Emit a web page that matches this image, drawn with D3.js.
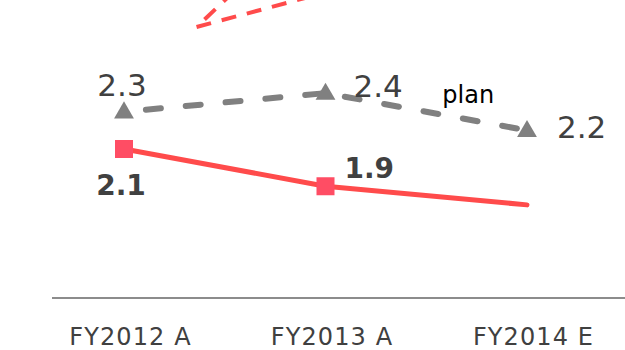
<!DOCTYPE html>
<html>
<head>
<meta charset="utf-8">
<script src="https://cdn.jsdelivr.net/npm/d3@7"></script>
<style>
  body { margin: 0; background: #fff; }
  text { font-family: "DejaVu Sans", Verdana, sans-serif; }
</style>
</head>
<body>
<script>
const width = 625;
const height = 350;

// categories and series values
const categories = ["FY2012 A", "FY2013 A", "FY2014 E"];
const planValues = [2.3, 2.4, 2.2];
const actualValues = [2.1, 1.9, 1.8];
// upper series, mostly cut off at the top (index = position between categories)
const upperIdx = [0.36, 1.0];
const upperValues = [2.755, 2.94];
const upperSteepIdx = [0.36, 0.56];
const upperSteepValues = [2.755, 2.96];

const svg = d3.select("body").append("svg")
  .attr("width", width)
  .attr("height", height);

// Scales setup
const xscale = d3.scaleLinear().domain([0, 2]).range([124, 527]);
const yscale = d3.scaleLinear().domain([1.3, 2.9]).range([298, 0]);

svg.append("defs").append("clipPath").attr("id", "plot")
  .append("rect").attr("x", 0).attr("y", 0).attr("width", width).attr("height", 298);

const line = d3.line().x(d => xscale(d[0])).y(d => yscale(d[1]));

// baseline
svg.append("line")
  .attr("x1", 52).attr("x2", width)
  .attr("y1", yscale(1.3)).attr("y2", yscale(1.3))
  .attr("stroke", "#8c8c8c").attr("stroke-width", 2);

// x axis labels
const xaxis = d3.axisBottom(xscale)
  .tickValues([0, 1, 2])
  .tickFormat(i => categories[i])
  .tickSize(0)
  .tickPadding(30);
const g_xaxis = svg.append("g")
  .attr("transform", `translate(0,${yscale(1.3)})`)
  .call(xaxis);
g_xaxis.select(".domain").remove();
g_xaxis.selectAll("text")
  .attr("dx", 6)
  .style("font-family", '"DejaVu Sans", Verdana, sans-serif')
  .style("font-size", "24px")
  .style("letter-spacing", "1.1px")
  .attr("fill", "#404040");

const plot = svg.append("g").attr("clip-path", "url(#plot)");

// red dashed upper series (clipped)
[[upperIdx, upperValues, 0], [upperSteepIdx, upperSteepValues, 15]].forEach(([xs, vs, off]) => {
  plot.append("path")
    .datum(xs.map((x, i) => [x, vs[i]]))
    .attr("d", line)
    .attr("fill", "none")
    .attr("stroke", "#ff4b4b")
    .attr("stroke-width", 4)
    .attr("stroke-dasharray", "15,11")
    .attr("stroke-dashoffset", off);
});

// plan line (gray dashed)
plot.append("path")
  .datum(planValues.map((v, i) => [i, v]))
  .attr("d", line)
  .attr("fill", "none")
  .attr("stroke", "#808080")
  .attr("stroke-width", 6)
  .attr("stroke-linecap", "round")
  .attr("stroke-dasharray", "15,25")
  .attr("stroke-dashoffset", -22);

// actual line (red solid)
plot.append("path")
  .datum(actualValues.map((v, i) => [i, v]))
  .attr("d", line)
  .attr("fill", "none")
  .attr("stroke", "#ff4b4b")
  .attr("stroke-width", 5)
  .attr("stroke-linecap", "round");

// triangle markers
plot.selectAll(".tri")
  .data(planValues)
  .join("path")
  .attr("class", "tri")
  .attr("d", d3.symbol(d3.symbolTriangle, 170))
  .attr("transform", (d, i) => `translate(${xscale(i)},${yscale(d) + 1})`)
  .attr("fill", "#808080");

// square markers (only actuals)
plot.selectAll(".sq")
  .data(actualValues.slice(0, 2))
  .join("rect")
  .attr("class", "sq")
  .attr("x", (d, i) => xscale(i) - 9)
  .attr("y", d => yscale(d) - 9)
  .attr("width", 18)
  .attr("height", 18)
  .attr("fill", "#ff4d64");

// value labels
const planLabelPos = [
  { dx: -2, dy: -16, anchor: "middle" },
  { dx: 28, dy: 4, anchor: "start" },
  { dx: 30, dy: 8, anchor: "start" }
];
svg.selectAll(".plan-label")
  .data(planValues)
  .join("text")
  .attr("class", "plan-label")
  .attr("x", (d, i) => xscale(i) + planLabelPos[i].dx)
  .attr("y", (d, i) => yscale(d) + planLabelPos[i].dy)
  .attr("text-anchor", (d, i) => planLabelPos[i].anchor)
  .attr("fill", "#404040")
  .style("font-size", "31px")
  .text(d => d.toFixed(1));

const actualLabelPos = [
  { dx: -3, dy: 46, anchor: "middle" },
  { dx: 19, dy: -8, anchor: "start" }
];
svg.selectAll(".actual-label")
  .data(actualValues.slice(0, 2))
  .join("text")
  .attr("class", "actual-label")
  .attr("x", (d, i) => xscale(i) + actualLabelPos[i].dx)
  .attr("y", (d, i) => yscale(d) + actualLabelPos[i].dy)
  .attr("text-anchor", (d, i) => actualLabelPos[i].anchor)
  .attr("fill", "#404040")
  .style("font-size", "28px")
  .style("font-weight", "bold")
  .text(d => d.toFixed(1));

// series label
svg.append("text")
  .attr("x", xscale(1.58))
  .attr("y", 103)
  .attr("fill", "#000")
  .style("font-size", "24px")
  .text("plan");
</script>
</body>
</html>
